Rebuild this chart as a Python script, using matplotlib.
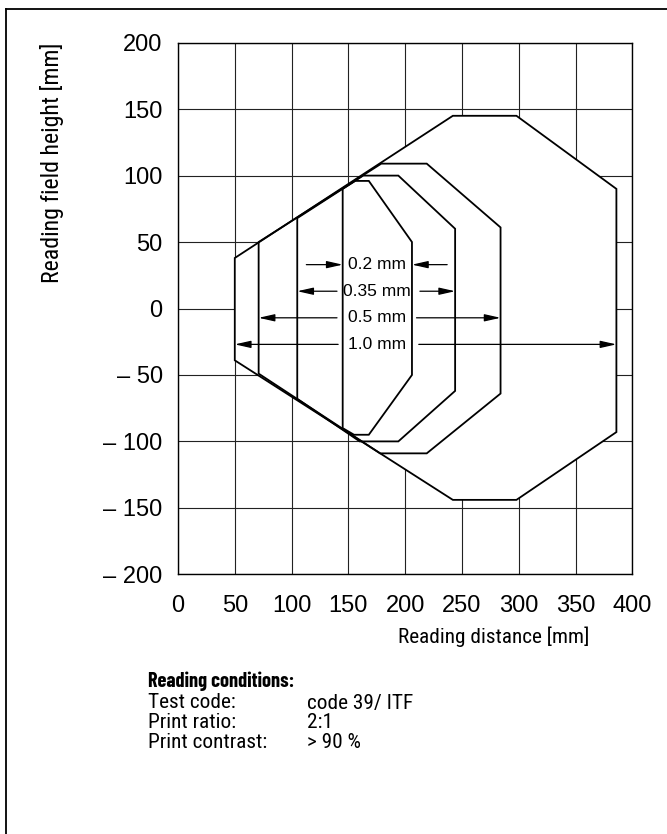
import matplotlib.pyplot as plt
from matplotlib.patches import Polygon
from matplotlib.lines import Line2D

# axis ticks
x_ticks = [0, 50, 100, 150, 200, 250, 300, 350, 400]
y_ticks = [-200, -150, -100, -50, 0, 50, 100, 150, 200]
y_tick_labels = ['– 200', '– 150', '– 100', '– 50', '0', '50', '100', '150', '200']

# reading field outlines, one per module width (x = distance, y = field height)
zone_10_x = [50, 242, 298, 386, 386, 298, 242, 50]
zone_10_y = [38, 145, 145, 90, -93, -144, -144, -39]
zone_05_x = [71, 179, 219, 284, 284, 219, 178, 71]
zone_05_y = [50, 109, 109, 61, -64, -109, -109, -49]
zone_035_x = [105, 163, 194, 244, 244, 194, 160, 105]
zone_035_y = [68, 100, 100, 60, -62, -100, -100, -68]
zone_02_x = [145, 156, 168, 206, 206, 168, 155, 145]
zone_02_y = [90, 96, 96, 50, -50, -95, -95, -90]

# dimension labels and arrows
zone_labels = ['0.2 mm', '0.35 mm', '0.5 mm', '1.0 mm']
label_y = [33, 13, -7, -27]
tail_left = [113, 140, 140, 141]
tail_right = [237, 213, 210, 212]

cond_names = ['Test code:', 'Print ratio:', 'Print contrast:']
cond_values = ['code 39/ ITF', '2:1', '> 90 %']

plt.rcParams['font.family'] = ['Liberation Sans', 'DejaVu Sans']
cond_font = ['Roboto Condensed', 'Fira Sans Condensed', 'Liberation Sans', 'DejaVu Sans']
head_font = ['Barlow Condensed', 'Roboto Condensed', 'Liberation Sans', 'DejaVu Sans']

W, H = 667, 834
fig = plt.figure(figsize=(W / 100, H / 100), dpi=100)
ax = fig.add_axes([178 / W, 1 - 574.3 / H, (632.3 - 178) / W, (574.3 - 42.7) / H])
renderer = fig.canvas.get_renderer()


def fit_size(text, width_px, family, weight='normal'):
    # font size that gives the text the width it has in the reference
    t = fig.text(0, 0, text, fontsize=20, family=family, fontweight=weight)
    w = t.get_window_extent(renderer=renderer).width
    t.remove()
    return 20 * width_px / w


ax.set_xlim(0, 400)
ax.set_ylim(-200, 200)
ax.set_xticks(x_ticks)
ax.set_yticks(y_ticks)
ax.set_yticklabels(y_tick_labels)
ax.tick_params(length=0, labelsize=17)
ax.tick_params(axis='x', pad=15)
ax.tick_params(axis='y', pad=11)
ax.set_axisbelow(True)
ax.grid(True, color='#222222', lw=0.8)
for s in ax.spines.values():
    s.set_linewidth(1.0)

zones = [(zone_10_x, zone_10_y), (zone_05_x, zone_05_y),
         (zone_035_x, zone_035_y), (zone_02_x, zone_02_y)]

# outer field hides the grid
ax.add_patch(Polygon(list(zip(zone_10_x, zone_10_y)), closed=True,
                     facecolor='white', edgecolor='none', zorder=2))
for zx, zy in zones:
    ax.add_patch(Polygon(list(zip(zx, zy)), closed=True, fill=False,
                         edgecolor='black', lw=1.3, zorder=3))

# order of zones in label lists: 0.2, 0.35, 0.5, 1.0
for i, (zx, zy) in enumerate(zones[::-1]):
    yy = label_y[i]
    for tail, head in [(tail_left[i], min(zx)), (tail_right[i], max(zx))]:
        ax.annotate('', xy=(head, yy), xytext=(tail, yy),
                    arrowprops=dict(arrowstyle='-|>,head_length=0.8,head_width=0.18',
                                    color='black', lw=0.9, shrinkA=0, shrinkB=0,
                                    mutation_scale=12), zorder=4)
    ax.text(175, yy, zone_labels[i], ha='center', va='center', fontsize=12.5, zorder=5)

fig.text(52 / W, 1 - 163 / H, 'Reading field height [mm]', rotation=90,
         ha='center', va='center',
         fontsize=fit_size('Reading field height [mm]', 240, cond_font), family=cond_font)
fig.text(398 / W, 1 - 637 / H, 'Reading distance [mm]', ha='left', va='center',
         fontsize=fit_size('Reading distance [mm]', 192, cond_font), family=cond_font)

body_size = fit_size('Test code:', 88, cond_font)
fig.text(148 / W, 1 - 681 / H, 'Reading conditions:', ha='left', va='center',
         fontsize=fit_size('Reading conditions:', 146, head_font, 'bold'), family=head_font,
         fontweight='bold')
for i, (n, v) in enumerate(zip(cond_names, cond_values)):
    yy = 1 - (703 + i * 20) / H
    fig.text(148 / W, yy, n, ha='left', va='center', fontsize=body_size, family=cond_font)
    fig.text(307 / W, yy, v, ha='left', va='center', fontsize=body_size, family=cond_font)

# page frame (top and left rules)
fig.add_artist(Line2D([6 / W, 6 / W], [0, 1 - 9.3 / H], transform=fig.transFigure,
                      color='black', lw=1.3))
fig.add_artist(Line2D([6 / W, 1], [1 - 9.3 / H, 1 - 9.3 / H], transform=fig.transFigure,
                      color='black', lw=1.3))

fig.savefig('out.png', dpi=100)
